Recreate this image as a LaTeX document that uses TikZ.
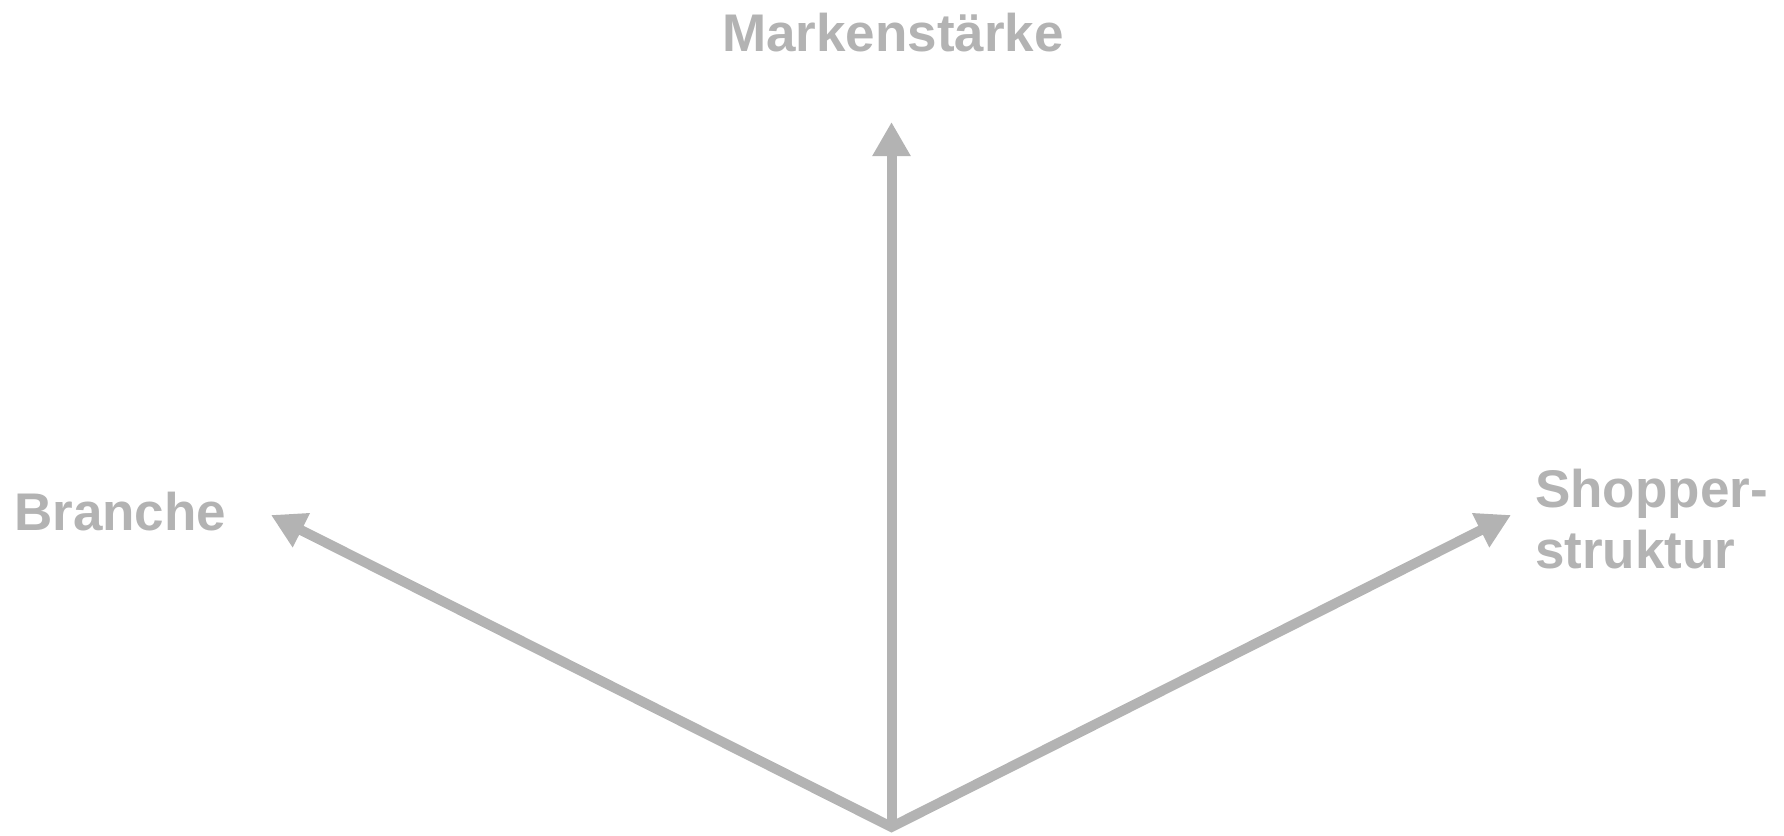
\documentclass[tikz,border=0pt]{standalone}
\usepackage{fontspec}
\setmainfont{Liberation Sans}
\usetikzlibrary{arrows.meta}
\definecolor{axisgray}{RGB}{179,179,179}
\begin{document}
\begin{tikzpicture}[x=1pt,y=-1pt,
  axislabel/.style={text=axisgray, font=\fontsize{53}{61}\selectfont\bfseries, inner sep=0pt, anchor=base west, align=left},
  axisline/.style={draw=axisgray, line width=10pt, line join=miter},
  tip/.style={-{Triangle[length=34pt,width=36pt]}},
  twotips/.style={{Triangle[length=34pt,width=36pt]}-{Triangle[length=34pt,width=36pt]}}]
\useasboundingbox (0,0) rectangle (1784,835);
\coordinate (O) at (891.5,827);
\coordinate (T) at (891.5,122);
\coordinate (L) at (271,515);
\coordinate (R) at (1511,515);
\draw[axisline, tip] (O) -- (T);
\draw[axisline, twotips] (L) -- (O) -- (R);
\node[axislabel] (mark) at (722,51) {Markenstärke};
\node[axislabel] (branche) at (14,530) {Branche};
\node[axislabel] (shopper) at (1535,568) {Shopper-\\struktur};
\end{tikzpicture}
\end{document}
